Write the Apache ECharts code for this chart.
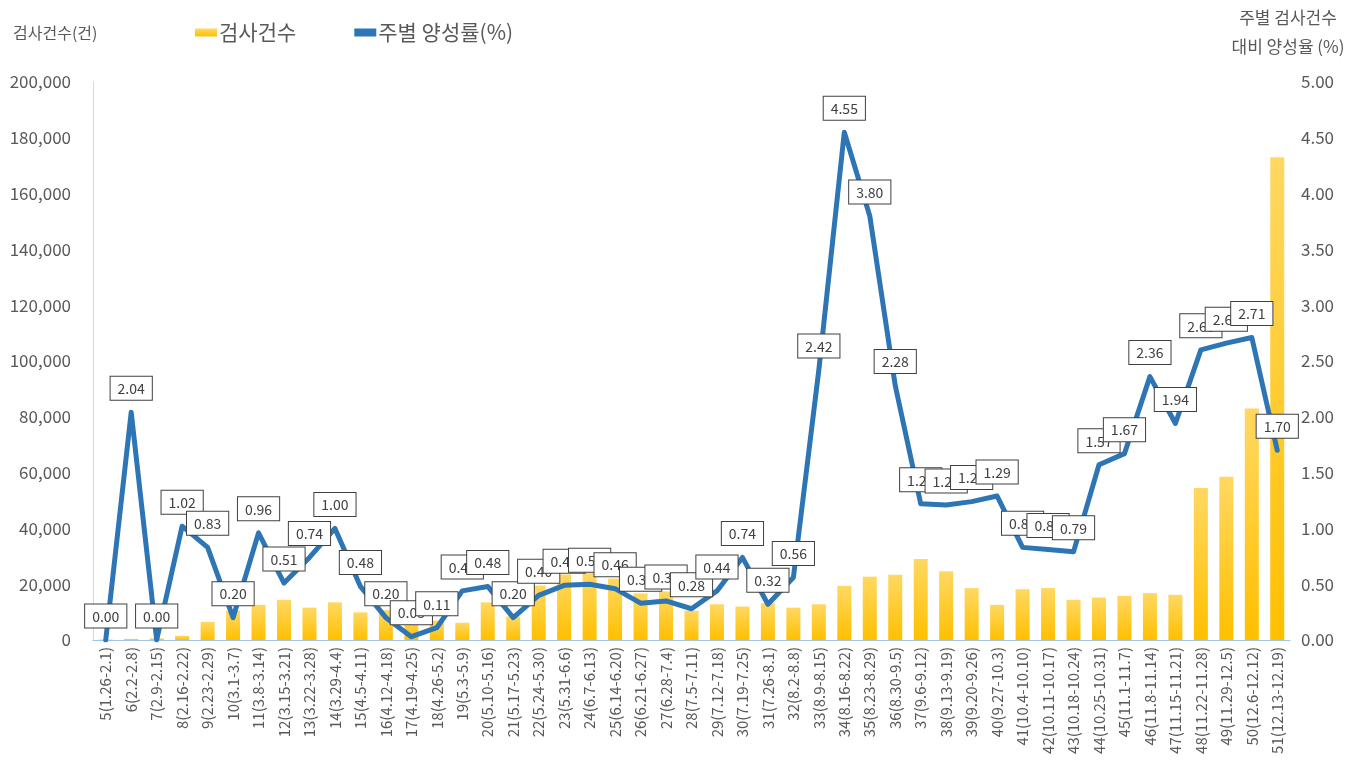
<!DOCTYPE html>
<html>
<head>
<meta charset="utf-8">
<script src="https://cdn.jsdelivr.net/npm/echarts@6/dist/echarts.min.js"></script>
<style>
  html, body { margin: 0; padding: 0; background: #fff; }
  #container { width: 1359px; height: 775px; }
</style>
</head>
<body>
<div id="container"></div>
<script>
// week labels (주차(기간))
var weeks = [
  '5(1.26-2.1)', '6(2.2-2.8)', '7(2.9-2.15)', '8(2.16-2.22)', '9(2.23-2.29)',
  '10(3.1-3.7)', '11(3.8-3.14)', '12(3.15-3.21)', '13(3.22-3.28)', '14(3.29-4.4)',
  '15(4.5-4.11)', '16(4.12-4.18)', '17(4.19-4.25)', '18(4.26-5.2)', '19(5.3-5.9)',
  '20(5.10-5.16)', '21(5.17-5.23)', '22(5.24-5.30)', '23(5.31-6.6)', '24(6.7-6.13)',
  '25(6.14-6.20)', '26(6.21-6.27)', '27(6.28-7.4)', '28(7.5-7.11)', '29(7.12-7.18)',
  '30(7.19-7.25)', '31(7.26-8.1)', '32(8.2-8.8)', '33(8.9-8.15)', '34(8.16-8.22)',
  '35(8.23-8.29)', '36(8.30-9.5)', '37(9.6-9.12)', '38(9.13-9.19)', '39(9.20-9.26)',
  '40(9.27-10.3)', '41(10.4-10.10)', '42(10.11-10.17)', '43(10.18-10.24)', '44(10.25-10.31)',
  '45(11.1-11.7)', '46(11.8-11.14)', '47(11.15-11.21)', '48(11.22-11.28)', '49(11.29-12.5)',
  '50(12.6-12.12)', '51(12.13-12.19)'
];

// 검사건수
var tests = [
  200, 400, 600, 1500, 6500,
  10500, 12600, 14400, 11600, 13500,
  9900, 10700, 8000, 7000, 6200,
  13500, 8400, 19500, 23500, 24000,
  22000, 16700, 17400, 10500, 12800,
  12000, 13200, 11600, 12800, 19400,
  22700, 23400, 29000, 24600, 18600,
  12600, 18200, 18600, 14400, 15200,
  15800, 16800, 16200, 54500, 58500,
  83000, 173000
];

// 주별 양성률 (%)
var posRate = [
  0.00, 2.04, 0.00, 1.02, 0.83,
  0.20, 0.96, 0.51, 0.74, 1.00,
  0.48, 0.20, 0.03, 0.11, 0.44,
  0.48, 0.20, 0.40, 0.49, 0.50,
  0.46, 0.33, 0.35, 0.28, 0.44,
  0.74, 0.32, 0.56, 2.42, 4.55,
  3.80, 2.28, 1.22, 1.21, 1.24,
  1.29, 0.83, 0.81, 0.79, 1.57,
  1.67, 2.36, 1.94, 2.60, 2.66,
  2.71, 1.70
];

var leftTicks = [0, 200000, 20000];
var rightTicks = [0, 5, 0.5];

var FONT = '"Noto Sans CJK KR", "Noto Sans", sans-serif';
var gray = '#595959';
var blue = '#2E75B6';

var dom = document.getElementById('container');
var myChart = echarts.init(dom);

var option = {
  animation: false,
  textStyle: { fontFamily: FONT },
  title: [
    {
      text: '검사건수(건)',
      left: 8, top: 20,
      textStyle: { fontSize: 16, fontWeight: 'normal', color: gray, fontFamily: FONT }
    },
    {
      text: '주별 검사건수\n대비 양성율 (%)',
      left: 1283, top: -2,
      textAlign: 'center',
      textStyle: { fontSize: 17, fontWeight: 'normal', color: gray, lineHeight: 29, fontFamily: FONT }
    }
  ],
  legend: {
    left: 190, top: 17,
    itemGap: 58,
    itemWidth: 22, itemHeight: 8,
    textStyle: { fontSize: 21, color: gray, fontFamily: FONT, padding: [0, 0, 0, -3] },
    data: [
      { name: '검사건수', icon: 'rect' },
      { name: '주별 양성률(%)', icon: 'rect', itemStyle: { color: blue } }
    ]
  },
  grid: { left: 93, right: 69, top: 82, bottom: 135 },
  xAxis: {
    type: 'category',
    data: weeks,
    axisLine: { lineStyle: { color: '#9DC3E6', width: 1 } },
    axisTick: { show: false },
    axisLabel: {
      rotate: 90, interval: 0,
      fontSize: 15, color: gray, margin: 7, fontFamily: FONT
    }
  },
  yAxis: [
    {
      type: 'value',
      min: leftTicks[0], max: leftTicks[1], interval: leftTicks[2],
      axisLine: { show: true, lineStyle: { color: '#D9D9D9' } },
      splitLine: { show: false },
      axisLabel: {
        fontSize: 17, color: gray, margin: 22, fontFamily: FONT,
        formatter: function (v) { return v.toLocaleString('en-US'); }
      }
    },
    {
      type: 'value',
      min: rightTicks[0], max: rightTicks[1], interval: rightTicks[2],
      axisLine: { show: false },
      splitLine: { show: false },
      axisLabel: {
        fontSize: 17, color: gray, margin: 11, fontFamily: FONT,
        formatter: function (v) { return v.toFixed(2); }
      }
    }
  ],
  series: [
    {
      name: '검사건수',
      type: 'bar',
      yAxisIndex: 0,
      data: tests,
      barWidth: '55%',
      itemStyle: {
        color: new echarts.graphic.LinearGradient(0, 0, 0, 1, [
          { offset: 0, color: '#FFD862' },
          { offset: 1, color: '#FFC000' }
        ])
      }
    },
    {
      name: '주별 양성률(%)',
      type: 'line',
      yAxisIndex: 1,
      data: posRate,
      smooth: false,
      symbol: 'circle',
      symbolSize: 1,
      showSymbol: true,
      lineStyle: { color: blue, width: 5, join: 'round', cap: 'round' },
      itemStyle: { color: 'rgba(0,0,0,0)' },
      label: {
        show: true,
        position: 'top',
        distance: 12,
        formatter: function (p) { return p.value.toFixed(2); },
        fontSize: 14,
        color: '#404040',
        fontFamily: FONT,
        backgroundColor: '#fff',
        borderColor: '#404040',
        borderWidth: 1,
        padding: [5, 7, 4, 7]
      },
      labelLayout: { hideOverlap: false },
      z: 5
    }
  ]
};

myChart.setOption(option);
</script>
</body>
</html>
